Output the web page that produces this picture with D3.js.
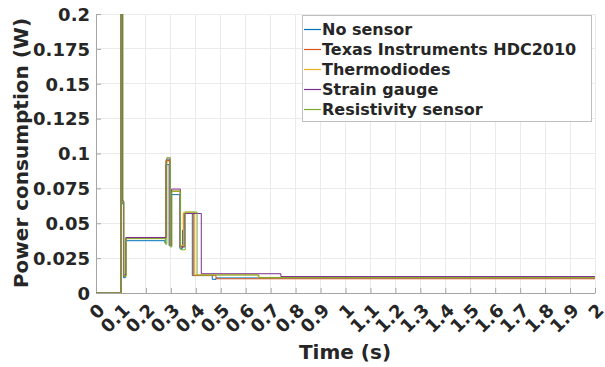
<!DOCTYPE html>
<html><head><meta charset="utf-8">
<script src="https://cdn.jsdelivr.net/npm/d3@7"></script>
<style>
html,body{margin:0;padding:0;background:#fff;}
svg text{font-family:"DejaVu Sans",sans-serif;font-weight:bold;fill:#262626;}
</style></head>
<body>
<svg id="chart" width="605" height="367"></svg>
<script>
// ---- data (time in s, power in W), step-after samples ----
const seriesNames = ["No sensor","Texas Instruments HDC2010","Thermodiodes","Strain gauge","Resistivity sensor"];
const seriesColors = ["#0072BD","#D95319","#EDB120","#7E2F8E","#77AC30"];
const noSensor = [[0,0],[0.100,0.25],[0.106,0.064],[0.110,0.011],[0.118,0.0375],[0.276,0.036],[0.279,0.092],[0.293,0.034],[0.300,0.0705],[0.336,0.032],[0.347,0.045],[0.352,0.057],[0.386,0.0125],[0.466,0.0098],[0.481,0.0108],[2,0.0108]];
const texasHDC2010 = [[0,0],[0.100,0.25],[0.106,0.066],[0.110,0.012],[0.119,0.0395],[0.280,0.095],[0.295,0.035],[0.302,0.073],[0.337,0.033],[0.350,0.057],[0.390,0.0125],[0.481,0.0102],[2,0.0102]];
const thermodiodes = [[0,0],[0.100,0.25],[0.107,0.065],[0.111,0.013],[0.119,0.039],[0.281,0.094],[0.296,0.034],[0.302,0.073],[0.338,0.034],[0.352,0.058],[0.395,0.013],[0.650,0.0112],[2,0.0112]];
const strainGauge = [[0,0],[0.100,0.25],[0.106,0.066],[0.111,0.013],[0.120,0.0398],[0.282,0.096],[0.297,0.034],[0.303,0.0745],[0.338,0.033],[0.356,0.057],[0.422,0.0138],[0.741,0.0118],[2,0.0118]];
const resistivity = [[0,0],[0.100,0.25],[0.108,0.065],[0.112,0.012],[0.121,0.039],[0.278,0.035],[0.284,0.097],[0.298,0.033],[0.304,0.073],[0.339,0.031],[0.358,0.058],[0.405,0.0129],[0.653,0.011],[2,0.011]];
const xTickValues = [0,0.1,0.2,0.3,0.4,0.5,0.6,0.7,0.8,0.9,1,1.1,1.2,1.3,1.4,1.5,1.6,1.7,1.8,1.9,2];
const xTickLabels = ["0","0.1","0.2","0.3","0.4","0.5","0.6","0.7","0.8","0.9","1","1.1","1.2","1.3","1.4","1.5","1.6","1.7","1.8","1.9","2"];
const yTickValues = [0,0.025,0.05,0.075,0.1,0.125,0.15,0.175,0.2];
const yTickLabels = ["0","0.025","0.05","0.075","0.1","0.125","0.15","0.175","0.2"];
const xTitle = "Time (s)";
const yTitle = "Power consumption (W)";

const allSeries = [noSensor, texasHDC2010, thermodiodes, strainGauge, resistivity];
const legendItems = seriesNames.map((n,i)=>({name:n, color:seriesColors[i], idx:i}));

// ---- layout ----
const L = 96, R = 595, T = 14, B = 293;
const svg = d3.select("#chart");
const x = d3.scaleLinear().domain([0,2]).range([L,R]);
const y = d3.scaleLinear().domain([0,0.2]).range([B,T]);

// grid
const grid = svg.append("g");
grid.selectAll("line.gx").data(xTickValues).join("line")
  .attr("x1",d=>x(d)).attr("x2",d=>x(d)).attr("y1",T).attr("y2",B)
  .attr("stroke","#ebebeb").attr("stroke-width",1).attr("shape-rendering","crispEdges");
grid.selectAll("line.gy").data(yTickValues).join("line")
  .attr("x1",L).attr("x2",R).attr("y1",d=>y(d)).attr("y2",d=>y(d))
  .attr("stroke","#ebebeb").attr("stroke-width",1).attr("shape-rendering","crispEdges");

// axes
const xAxis = d3.axisBottom(x).tickValues(xTickValues).tickSizeInner(-5).tickSizeOuter(0)
  .tickFormat((d,i)=>xTickLabels[i]);
const gx = svg.append("g").attr("transform",`translate(0,${B})`).call(xAxis);
gx.select(".domain").attr("stroke","#a6a6a6");
gx.selectAll(".tick line").attr("stroke","#a6a6a6");
gx.selectAll(".tick text")
  .attr("font-size",18).attr("font-family","DejaVu Sans").attr("font-weight","bold").attr("fill","#262626")
  .attr("text-anchor","end").attr("y",0).attr("dy","0.35em")
  .attr("transform","translate(5,14) rotate(-45)");

const yAxis = d3.axisLeft(y).tickValues(yTickValues).tickSizeInner(-5).tickSizeOuter(0)
  .tickFormat((d,i)=>yTickLabels[i]);
const gy = svg.append("g").attr("transform",`translate(${L},0)`).call(yAxis);
gy.select(".domain").attr("stroke","#a6a6a6");
gy.selectAll(".tick line").attr("stroke","#a6a6a6");
gy.selectAll(".tick text")
  .attr("font-size",18).attr("font-family","DejaVu Sans").attr("font-weight","bold").attr("fill","#262626")
  .attr("x",-6).attr("dy","0.35em");

// titles
svg.append("text").attr("x",345).attr("y",352).attr("dy","0.35em")
  .attr("text-anchor","middle").attr("font-size",20).text(xTitle);
svg.append("text").attr("transform","translate(21,153) rotate(-90)").attr("dy","0.35em")
  .attr("text-anchor","middle").attr("font-size",20).text(yTitle);

// lines
svg.append("clipPath").attr("id","plotclip").append("rect")
  .attr("x",L).attr("y",T).attr("width",R-L).attr("height",B-T);
const line = d3.line().x(d=>x(d[0])).y(d=>y(d[1])).curve(d3.curveStepAfter);
svg.append("g").attr("clip-path","url(#plotclip)")
  .selectAll("path").data(allSeries).join("path")
  .attr("d",line).attr("fill","none")
  .attr("stroke",(d,i)=>seriesColors[i]).attr("stroke-width",1);

// legend
const lg = svg.append("g");
lg.append("rect").attr("x",302.5).attr("y",15.5).attr("width",289).attr("height",106)
  .attr("fill","#fff").attr("stroke","#bfbfbf").attr("stroke-width",1);
const items = lg.selectAll("g.item").data(legendItems).join("g")
  .attr("class","item")
  .attr("transform",d=>`translate(0,${29.5 + d.idx*20})`);
items.append("line").attr("x1",304).attr("x2",321).attr("y1",0).attr("y2",0)
  .style("stroke",d=>d.color).attr("stroke-width",1.2);
items.append("text").attr("x",322).attr("y",0).attr("dy","0.35em")
  .attr("font-size",16).text(d=>d.name);
</script>
</body></html>
